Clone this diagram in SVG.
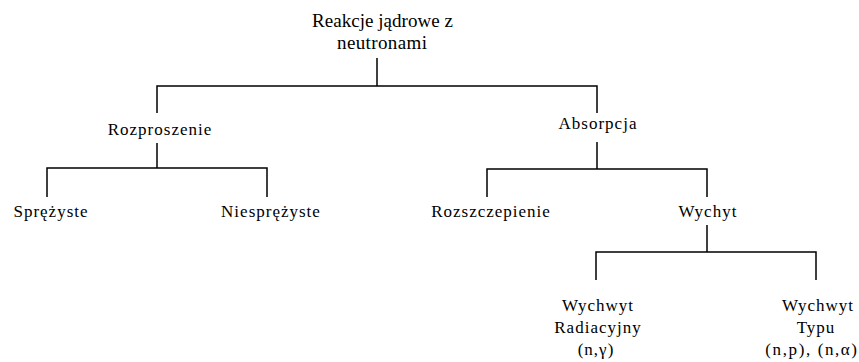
<svg xmlns="http://www.w3.org/2000/svg" width="859" height="362" viewBox="0 0 859 362">
<style>
text{font-family:"Liberation Serif","Times New Roman",serif;font-size:17px;fill:#000;text-anchor:middle;letter-spacing:1px}
text.t{font-size:19px;letter-spacing:0}
.c{fill:none;stroke:#000;stroke-width:1.5}
</style>
<rect width="859" height="362" fill="#fff"/>
<g id="connectors">
<polyline class="c" points="377,58 377,86"/>
<polyline class="c" points="157,113 157,86 597,86 597,113"/>
<polyline class="c" points="157,143 157,168"/>
<polyline class="c" points="47,197 47,168 267,168 267,197"/>
<polyline class="c" points="597,142 597,169"/>
<polyline class="c" points="487,197 487,169 707,169 707,197"/>
<polyline class="c" points="707,225 707,252"/>
<polyline class="c" points="596,280 596,252 816,252 816,280"/>
</g>
<g id="root"><text class="t" x="382.5" y="27" textLength="141" lengthAdjust="spacing">Reakcje jądrowe z</text><text class="t" x="382" y="49" textLength="90" lengthAdjust="spacing">neutronami</text></g>
<g id="rozproszenie"><text x="160" y="135">Rozproszenie</text></g>
<g id="absorpcja"><text x="598" y="129">Absorpcja</text></g>
<g id="sprezyste"><text x="51" y="217">Sprężyste</text></g>
<g id="niesprezyste"><text x="271" y="217">Niesprężyste</text></g>
<g id="rozszczepienie"><text x="491" y="217">Rozszczepienie</text></g>
<g id="wychyt"><text x="708" y="217">Wychyt</text></g>
<g id="radiacyjny"><text x="598" y="311">Wychwyt</text><text x="598" y="333">Radiacyjny</text><text x="596" y="355">(n,γ)</text></g>
<g id="typu"><text x="818" y="311">Wychwyt</text><text x="816" y="333">Typu</text><text x="812" y="355" style="letter-spacing:1.6px">(n,p), (n,α)</text></g>
</svg>
